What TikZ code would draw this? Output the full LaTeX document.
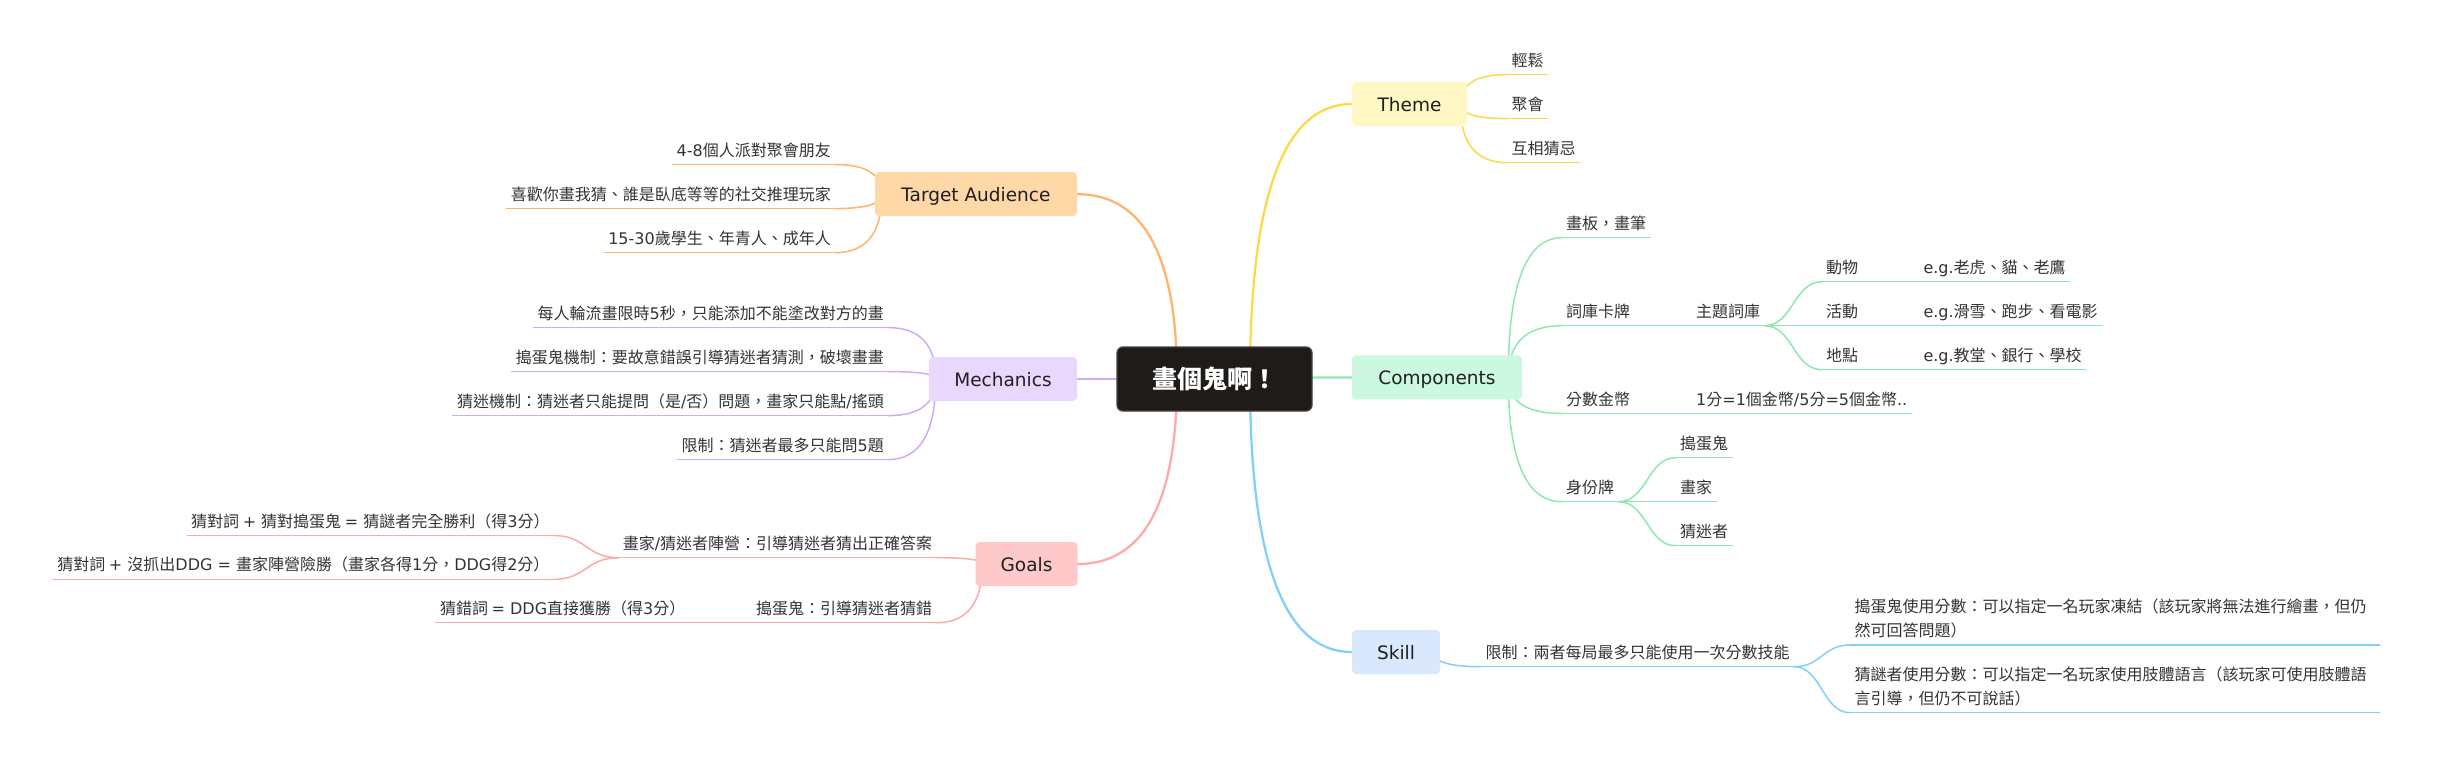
\documentclass[tikz,border=0pt]{standalone}
\usepackage{fontspec}
\setmainfont{DejaVu Sans}
\newfontfamily\latf{DejaVu Sans}
\newfontfamily\cjkf{Noto Sans CJK TC}
\XeTeXinterchartokenstate=1
\newXeTeXintercharclass\cjkcls
\newcount\cjkcc
\cjkcc="2E80
\loop \XeTeXcharclass\cjkcc=\cjkcls \advance\cjkcc by 1 \ifnum\cjkcc<"A000 \repeat
\cjkcc="FF00
\loop \XeTeXcharclass\cjkcc=\cjkcls \advance\cjkcc by 1 \ifnum\cjkcc<"FFF0 \repeat
\XeTeXinterchartoks 0 \cjkcls = {\cjkf}
\XeTeXinterchartoks 4095 \cjkcls = {\cjkf}
\XeTeXinterchartoks \cjkcls 0 = {\latf}
\XeTeXinterchartoks 4095 0 = {\latf}
\usetikzlibrary{calc,backgrounds}
\definecolor{thc}{HTML}{FDD84A}\definecolor{thf}{HTML}{FFF8C4}
\definecolor{tac}{HTML}{FFB36B}\definecolor{taf}{HTML}{FFD8A8}
\definecolor{mec}{HTML}{D1AAF5}\definecolor{mef}{HTML}{E9D7FD}
\definecolor{goc}{HTML}{FFA9A9}\definecolor{gof}{HTML}{FFC9C9}
\definecolor{coc}{HTML}{8DE8B0}\definecolor{cof}{HTML}{CCF8E1}
\definecolor{skc}{HTML}{82D0FA}\definecolor{skf}{HTML}{D9E8FD}
\definecolor{rootf}{HTML}{1F1B18}\definecolor{rootd}{HTML}{46423E}
\definecolor{leaftxt}{HTML}{333333}\definecolor{titletxt}{HTML}{1F1F1F}
\newcommand\myleaf{\fontsize{16pt}{24pt}\selectfont}
\newcommand\mytitle{\fontsize{18.5pt}{22pt}\selectfont}
\newcommand\myroot{\fontsize{25pt}{30pt}\selectfont\bfseries}
\newcommand\qcv[3]{\draw[#1] let \p1=(#2), \p2=(#3) in (\p1) .. controls (\x1,{\y1+0.6667*(\y2-\y1)}) and ({\x2+0.6667*(\x1-\x2)},\y2) .. (\p2);}
\newcommand\scv[3]{\draw[#1] let \p1=(#2), \p2=(#3) in (\p1) .. controls ({0.5*(\x1+\x2)},\y1) and ({0.5*(\x1+\x2)},\y2) .. (\p2);}
\newcommand\ulv[2]{\draw[#1] (#2.south west) -- (#2.south east);}
\begin{document}
\begin{tikzpicture}[x=1pt,y=-1pt,
  titlebox/.style={rounded corners=4pt, minimum height=44pt, inner sep=0pt, text height=14.5pt, text depth=0pt, font=\mytitle, text=titletxt},
  leafR/.style={anchor=south west, inner xsep=4pt, inner ysep=0pt, text depth=8.3pt, font=\myleaf, text=leaftxt},
  leafL/.style={leafR, anchor=south east},
  twoline/.style={leafR, text width=521pt, align=left, text depth=32.3pt},
  mainln/.style={line width=2.3pt, line cap=round},
  subln/.style={line width=1.5pt, line cap=round}]
\useasboundingbox (0,0) rectangle (2439,758);
% root
\node[fill=rootf, draw=rootd, line width=1.3pt, rounded corners=6pt, minimum width=195pt, minimum height=64pt, inner sep=0pt, text height=19pt, text depth=0pt, text=white, font=\myroot] (root) at (1214.5,379) {畫個鬼啊！};
% titles
\node[titlebox, fill=taf, minimum width=202pt] (ta) at (976,194.2) {Target Audience};
\node[titlebox, fill=mef, minimum width=148pt] (me) at (1003,379) {Mechanics};
\node[titlebox, fill=gof, minimum width=102pt] (go) at (1026.5,564) {Goals};
\node[titlebox, fill=thf, minimum width=115pt] (th) at (1409.5,104) {Theme};
\node[titlebox, fill=cof, minimum width=170pt] (co) at (1437,377.4) {Components};
\node[titlebox, fill=skf, minimum width=88pt] (sk) at (1396,652) {Skill};
% origins
\coordinate (rL) at ($(root.center)+(-37.5,0)$);
\coordinate (rR) at ($(root.center)+(35.5,0)$);
\coordinate (taO) at ($(ta.west)+(7,0)$);
\coordinate (meO) at ($(me.west)+(7,0)$);
\coordinate (goO) at ($(go.west)+(7,0)$);
\coordinate (thO) at ($(th.east)+(-7,0)$);
\coordinate (coO) at ($(co.east)+(-14,0)$);
\coordinate (skO) at ($(sk.east)+(-7,0)$);
% Theme leaves
\node[leafR] (t1) at (1507.4,74.5) {輕鬆};
\node[leafR] (t2) at (1507.4,118.6) {聚會};
\node[leafR] (t3) at (1507.4,162.7) {互相猜忌};
% Target audience leaves
\node[leafL] (a1) at (835,164.5) {4-8個人派對聚會朋友};
\node[leafL] (a2) at (835,208.6) {喜歡你畫我猜、誰是臥底等等的社交推理玩家};
\node[leafL] (a3) at (835,252.7) {15-30歲學生、年青人、成年人};
% Mechanics leaves
\node[leafL] (m1) at (888,327.6) {每人輪流畫限時5秒，只能添加不能塗改對方的畫};
\node[leafL] (m2) at (888,371.6) {搗蛋鬼機制：要故意錯誤引導猜迷者猜測，破壞畫畫};
\node[leafL] (m3) at (888,415.6) {猜迷機制：猜迷者只能提問（是/否）問題，畫家只能點/搖頭};
\node[leafL] (m4) at (888,459.6) {限制：猜迷者最多只能問5題};
% Goals leaves
\node[leafL] (g1) at (936.4,557.7) {畫家/猜迷者陣營：引導猜迷者猜出正確答案};
\node[leafL] (g11) at (553.7,535.5) {猜對詞 + 猜對搗蛋鬼 = 猜謎者完全勝利（得3分）};
\node[leafL] (g12) at (553.7,579.3) {猜對詞 + 沒抓出DDG = 畫家陣營險勝（畫家各得1分，DDG得2分）};
\node[leafL] (g2) at (936.4,622.7) {搗蛋鬼：引導猜迷者猜錯};
\node[leafL] (g21) at (689.6,622.7) {猜錯詞 = DDG直接獲勝（得3分）};
% Components leaves
\node[leafR] (c1) at (1562,237.7) {畫板，畫筆};
\node[leafR] (c2) at (1562,325.7) {詞庫卡牌};
\node[leafR] (c21) at (1692,325.7) {主題詞庫};
\node[leafR] (c211) at (1822,281.7) {動物};
\node[leafR] (c212) at (1822,325.7) {活動};
\node[leafR] (c213) at (1822,369.7) {地點};
\node[leafR] (e1) at (1919.3,281.7) {e.g.老虎、貓、老鷹};
\node[leafR] (e2) at (1919.3,325.7) {e.g.滑雪、跑步、看電影};
\node[leafR] (e3) at (1919.3,369.7) {e.g.教堂、銀行、學校};
\node[leafR] (c3) at (1562,413.5) {分數金幣};
\node[leafR] (c31) at (1692,413.5) {1分=1個金幣/5分=5個金幣..};
\node[leafR] (c4) at (1562,501.7) {身份牌};
\node[leafR] (c41) at (1676,457.7) {搗蛋鬼};
\node[leafR] (c42) at (1676,501.7) {畫家};
\node[leafR] (c43) at (1676,545.7) {猜迷者};
% Skill leaves
\node[leafR] (s1) at (1481.3,666.7) {限制：兩者每局最多只能使用一次分數技能};
\node[twoline] (s11) at (1850.4,645) {搗蛋鬼使用分數：可以指定一名玩家凍結（該玩家將無法進行繪畫，但仍\\然可回答問題）};
\node[twoline] (s12) at (1850.4,712.7) {猜謎者使用分數：可以指定一名玩家使用肢體語言（該玩家可使用肢體語\\言引導，但仍不可說話）};
\begin{scope}[on background layer]
% main branches
\qcv{mainln,thc}{rR}{th.west}
\qcv{mainln,coc}{rR}{co.west}
\qcv{mainln,skc}{rR}{sk.west}
\qcv{mainln,tac}{rL}{ta.east}
\qcv{mainln,mec}{rL}{me.east}
\qcv{mainln,goc}{rL}{go.east}
% theme
\foreach \nd in {t1,t2,t3}{\qcv{subln,thc}{thO}{\nd.south west}\ulv{subln,thc}{\nd}}
% target
\foreach \nd in {a1,a2,a3}{\qcv{subln,tac}{taO}{\nd.south east}\ulv{subln,tac}{\nd}}
% mechanics
\foreach \nd in {m1,m2,m3,m4}{\qcv{subln,mec}{meO}{\nd.south east}\ulv{subln,mec}{\nd}}
% goals
\foreach \nd in {g1,g2}{\qcv{subln,goc}{goO}{\nd.south east}\ulv{subln,goc}{\nd}}
\foreach \nd in {g11,g12}{\scv{subln,goc}{g1.south west}{\nd.south east}\ulv{subln,goc}{\nd}}
\scv{subln,goc}{g2.south west}{g21.south east}\ulv{subln,goc}{g21}
% components
\foreach \nd in {c1,c2,c3,c4}{\qcv{subln,coc}{coO}{\nd.south west}\ulv{subln,coc}{\nd}}
\scv{subln,coc}{c2.south east}{c21.south west}\ulv{subln,coc}{c21}
\foreach \nd/\md in {c211/e1,c212/e2,c213/e3}{\scv{subln,coc}{c21.south east}{\nd.south west}\ulv{subln,coc}{\nd}\scv{subln,coc}{\nd.south east}{\md.south west}\ulv{subln,coc}{\md}}
\scv{subln,coc}{c3.south east}{c31.south west}\ulv{subln,coc}{c31}
\foreach \nd in {c41,c42,c43}{\scv{subln,coc}{c4.south east}{\nd.south west}\ulv{subln,coc}{\nd}}
% skill
\qcv{subln,skc}{skO}{s1.south west}\ulv{subln,skc}{s1}
\foreach \nd in {s11,s12}{\scv{subln,skc}{s1.south east}{\nd.south west}\ulv{subln,skc}{\nd}}
\end{scope}
\end{tikzpicture}
\end{document}
